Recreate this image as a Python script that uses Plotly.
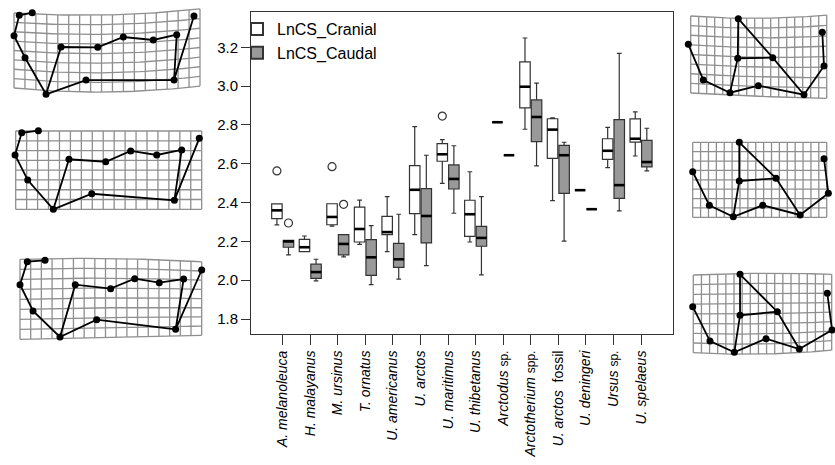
import plotly.graph_objects as go

# ---------------- data ----------------
species = ["<i>A. melanoleuca</i>", "<i>H. malayanus</i>", "<i>M. ursinus</i>", "<i>T. ornatus</i>",
           "<i>U. americanus</i>", "<i>U. arctos</i>", "<i>U. maritimus</i>", "<i>U. thibetanus</i>",
           "<i>Arctodus</i> <span style='font-size:12px'>sp.</span>",
           "<i>Arctotherium</i> <span style='font-size:12px'>spp.</span>",
           "<i>U. arctos</i>  fossil", "<i>U. deningeri</i>",
           "<i>Ursus</i> <span style='font-size:12px'>sp.</span>", "<i>U. spelaeus</i>"]

cran_lo  = [2.285, 2.147, 2.279, 2.185, 2.147, 2.235, 2.499, 2.197, 2.814, 2.778, 2.410, 2.464, 2.580, 2.640]
cran_q1  = [2.317, 2.147, 2.286, 2.197, 2.235, 2.343, 2.613, 2.226, 2.814, 2.888, 2.628, 2.464, 2.623, 2.712]
cran_med = [2.360, 2.170, 2.326, 2.264, 2.248, 2.466, 2.649, 2.340, 2.814, 2.997, 2.776, 2.464, 2.667, 2.729]
cran_q3  = [2.393, 2.211, 2.394, 2.377, 2.329, 2.590, 2.704, 2.412, 2.814, 3.125, 2.832, 2.464, 2.729, 2.831]
cran_hi  = [2.393, 2.228, 2.394, 2.413, 2.431, 2.791, 2.724, 2.559, 2.814, 3.248, 2.836, 2.464, 2.788, 2.867]

caud_lo  = [2.131, 1.997, 2.120, 1.977, 2.006, 2.075, 2.345, 2.028, 2.644, 2.589, 2.202, 2.366, 2.357, 2.563]
caud_q1  = [2.170, 2.010, 2.131, 2.025, 2.066, 2.192, 2.470, 2.175, 2.644, 2.714, 2.448, 2.366, 2.422, 2.584]
caud_med = [2.200, 2.042, 2.187, 2.118, 2.108, 2.331, 2.522, 2.218, 2.644, 2.841, 2.644, 2.366, 2.490, 2.609]
caud_q3  = [2.206, 2.083, 2.235, 2.209, 2.190, 2.472, 2.594, 2.278, 2.644, 2.929, 2.695, 2.366, 2.827, 2.721]
caud_hi  = [2.206, 2.108, 2.235, 2.281, 2.340, 2.644, 2.693, 2.431, 2.644, 3.016, 2.711, 2.366, 3.169, 2.783]

cran_out_idx = [0, 2, 6]
cran_out_val = [2.563, 2.585, 2.846]
caud_out_idx = [0, 2]
caud_out_val = [2.295, 2.391]

y_ticks = [1.8, 2.0, 2.2, 2.4, 2.6, 2.8, 3.0, 3.2]

# landmark configurations (grid-cell units: u to the right, v upward)
lm13_L1_u = [0.48, 1.67, 0.00, 1.01, 2.93, 4.30, 7.65, 9.99, 12.73, 14.87, 14.63, 6.58, 16.45]
lm13_L1_v = [7.75, 8.03, 5.58, 3.23, -0.67, 4.37, 4.34, 5.44, 5.12, 5.69, 0.85, 0.85, 7.68]
lm13_L2_u = [0.55, 2.07, -0.06, 1.10, 3.44, 4.87, 8.23, 10.51, 12.89, 15.17, 14.50, 6.95, 16.78]
lm13_L2_v = [7.82, 8.03, 5.55, 2.99, 0.00, 5.11, 4.86, 5.96, 5.55, 6.06, 0.92, 1.59, 7.25]
lm13_L3_u = [0.68, 2.34, 0.00, 1.22, 3.74, 5.17, 8.48, 10.73, 13.03, 15.31, 14.56, 7.17, 17.00]
lm13_L3_v = [7.76, 7.90, 5.46, 2.83, 0.23, 5.46, 5.06, 6.06, 5.66, 6.03, 1.00, 1.96, 6.93]

lm10_R1_u = [-0.30, 1.58, 4.91, 5.88, 5.95, 10.25, 14.16, 8.45, 16.66, 16.45]
lm10_R1_v = [5.06, 1.35, 0.03, 3.61, 7.72, 3.67, -0.18, 0.76, 2.81, 6.31]
lm10_R2_u = [0.00, 2.11, 5.15, 5.91, 5.91, 10.57, 13.62, 8.88, 17.21, 16.66]
lm10_R2_v = [4.86, 1.28, 0.06, 3.87, 8.00, 4.16, 0.25, 1.28, 2.56, 6.25]
lm10_R3_u = [-0.07, 2.05, 5.04, 5.74, 5.74, 10.32, 13.02, 8.93, 17.04, 16.46]
lm10_R3_v = [4.74, 1.20, 0.04, 3.85, 8.07, 4.22, 0.38, 1.44, 2.34, 6.12]

links13 = [[2, 1, 3, 4, 5, 6, 7, 8, 9, 10, 11, 13], [5, 12, 11]]
links10 = [[1, 2, 3, 8, 7, 9, 10], [3, 4, 5, 6, 7], [4, 6]]

# ---------------- style / layout ----------------
W, H = 835, 465
FONT = "Liberation Sans, Arial, sans-serif"
EDGE = "#333333"
GRAY = "#999999"
OFF, BW = 0.21, 0.38

fig = go.Figure()
n = len(species)
pos_c = [i - OFF for i in range(n)]
pos_g = [i + OFF for i in range(n)]

common = dict(line=dict(color=EDGE, width=1.2), whiskerwidth=0.45, boxpoints=False,
              width=BW, hoverinfo="skip")
fig.add_trace(go.Box(x=pos_c, q1=cran_q1, median=cran_med, q3=cran_q3, lowerfence=cran_lo,
                     upperfence=cran_hi, fillcolor="white", name="LnCS_Cranial", **common))
fig.add_trace(go.Box(x=pos_g, q1=caud_q1, median=caud_med, q3=caud_q3, lowerfence=caud_lo,
                     upperfence=caud_hi, fillcolor=GRAY, name="LnCS_Caudal", **common))

# thick median bars
mx, my = [], []
for p, m in list(zip(pos_c, cran_med)) + list(zip(pos_g, caud_med)):
    mx += [p - BW / 2, p + BW / 2, None]
    my += [m, m, None]
fig.add_trace(go.Scatter(x=mx, y=my, mode="lines", line=dict(color="black", width=2.6),
                         showlegend=False, hoverinfo="skip"))

# outliers
fig.add_trace(go.Scatter(x=[i - OFF for i in cran_out_idx], y=cran_out_val, mode="markers",
                         marker=dict(symbol="circle-open", size=8, color=EDGE, line=dict(width=1.2)),
                         showlegend=False, hoverinfo="skip"))
fig.add_trace(go.Scatter(x=[i + OFF for i in caud_out_idx], y=caud_out_val, mode="markers",
                         marker=dict(symbol="circle-open", size=8, color=EDGE, line=dict(width=1.2)),
                         showlegend=False, hoverinfo="skip"))

x0p, x1p, y0p, y1p = 251, 673, 12, 334
fig.update_layout(
    width=W, height=H, margin=dict(l=0, r=0, t=0, b=0),
    paper_bgcolor="white", plot_bgcolor="white",
    font=dict(family=FONT, color="black"),
    boxmode="overlay",
    showlegend=True,
    legend=dict(x=237 / W, y=1 - 12 / H, xanchor="left", yanchor="top",
                bgcolor="rgba(0,0,0,0)", font=dict(size=16, family=FONT),
                tracegroupgap=0, itemsizing="constant"),
    xaxis=dict(domain=[x0p / W, x1p / W], range=[-1.15, n - 1 + 1.16],
               tickvals=list(range(n)), ticktext=species, tickangle=-90,
               tickfont=dict(size=14, family=FONT), ticks="outside", ticklen=10,
               tickcolor=EDGE, showline=True, linecolor=EDGE, linewidth=1, mirror=True,
               showgrid=False, zeroline=False, automargin=False),
    yaxis=dict(domain=[1 - y1p / H, 1 - y0p / H], range=[1.723, 3.382],
               tickvals=y_ticks, ticktext=[f"{t:.1f}" for t in y_ticks],
               tickfont=dict(size=15, family=FONT), ticks="outside", ticklen=9,
               tickcolor=EDGE, showline=True, linecolor=EDGE, linewidth=1, mirror=True,
               showgrid=False, zeroline=False, automargin=False),
)

# ---------------- deformation-grid panels ----------------
panels = [
    # name, grid px box (x0, x1, y0, y1), warp (aB, aT, bB, bT), landmarks, links
    ("L1", (14, 200, 13, 88), (-0.53, -0.42, 0.21, 0.43), lm13_L1_u, lm13_L1_v, links13),
    ("L2", (15.7, 201.7, 131, 209.3), (0, 0, 0, 0), lm13_L2_u, lm13_L2_v, links13),
    ("L3", (20, 201.7, 259.3, 339.3), (0.0, 0.2, 0.4, -0.25), lm13_L3_u, lm13_L3_v, links13),
    ("R1", (690.7, 826.7, 16, 93), (-0.07, -0.29, -0.55, 0.10), lm10_R1_u, lm10_R1_v, links10),
    ("R2", (692.7, 826.7, 142.3, 217.3), (0, 0, 0, 0), lm10_R2_u, lm10_R2_v, links10),
    ("R3", (693.3, 831.7, 275, 352.7), (-0.275, 0.135, 0.27, 0.07), lm10_R3_u, lm10_R3_v, links10),
]
NU, NV = 17, 8


def warp(u, v, p):
    aB, aT, bB, bT = p
    t = v / NV
    s = u * (NU - u) / (NU / 2) ** 2
    return u, v + s * (aB + (aT - aB) * t) + (u / NU) * (bB + (bT - bB) * t)


for k, (name, (gx0, gx1, gy0, gy1), wp, lu, lv, links) in enumerate(panels):
    ax = k + 2
    cw, ch = (gx1 - gx0) / NU, (gy1 - gy0) / NV
    ulo = max(-1.0, -(gx0 - 1) / cw)
    uhi = min(NU + 1.0, (W - 1 - gx0) / cw)
    vlo, vhi = -1.2, NV + 1.2
    fig.layout[f"xaxis{ax}"] = dict(domain=[(gx0 + ulo * cw) / W, (gx0 + uhi * cw) / W],
                                    range=[ulo, uhi], visible=False, fixedrange=True,
                                    anchor=f"y{ax}")
    fig.layout[f"yaxis{ax}"] = dict(domain=[max(0, 1 - (gy1 - vlo * ch) / H),
                                            min(1, 1 - (gy1 - vhi * ch) / H)],
                                    range=[vlo, vhi], visible=False, fixedrange=True,
                                    anchor=f"x{ax}")
    gxs, gys = [], []
    steps = [i * 0.5 for i in range(2 * NU + 1)]
    for j in range(NV + 1):
        for u in steps:
            a, b = warp(u, j, wp)
            gxs.append(a); gys.append(b)
        gxs.append(None); gys.append(None)
    vsteps = [i * 0.5 for i in range(2 * NV + 1)]
    for i in range(NU + 1):
        for v in vsteps:
            a, b = warp(i, v, wp)
            gxs.append(a); gys.append(b)
        gxs.append(None); gys.append(None)
    fig.add_trace(go.Scatter(x=gxs, y=gys, mode="lines", line=dict(color="#8f8f8f", width=1.3),
                             xaxis=f"x{ax}", yaxis=f"y{ax}", showlegend=False, hoverinfo="skip"))
    lx, ly = [], []
    for path in links:
        for idx in path:
            lx.append(lu[idx - 1]); ly.append(lv[idx - 1])
        lx.append(None); ly.append(None)
    fig.add_trace(go.Scatter(x=lx, y=ly, mode="lines", line=dict(color="black", width=1.8),
                             xaxis=f"x{ax}", yaxis=f"y{ax}", showlegend=False, hoverinfo="skip"))
    fig.add_trace(go.Scatter(x=lu, y=lv, mode="markers", marker=dict(color="black", size=7),
                             xaxis=f"x{ax}", yaxis=f"y{ax}", showlegend=False, hoverinfo="skip",
                             cliponaxis=False))

fig.write_html("out.html")
